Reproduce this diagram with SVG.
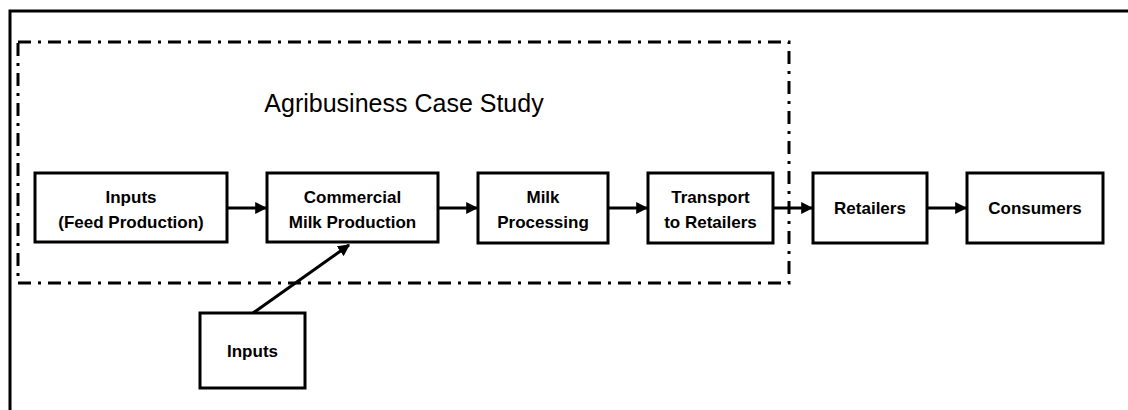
<svg xmlns="http://www.w3.org/2000/svg" width="1128" height="410" viewBox="0 0 1128 410">
  <defs>
    <marker id="arrow" viewBox="0 0 10 10" refX="9" refY="5" markerWidth="4" markerHeight="4" orient="auto" markerUnits="strokeWidth">
      <path d="M0,0 L10,5 L0,10 z" fill="#000"/>
    </marker>
    <style>
      .box { fill: #fff; stroke: #000; stroke-width: 3; }
      .lbl { font-family: "Liberation Sans", Arial, sans-serif; font-weight: bold; font-size: 17px; text-anchor: middle; fill: #000; }
      .edge { stroke: #000; stroke-width: 3; fill: none; marker-end: url(#arrow); }
      .scope { stroke: #000; stroke-width: 3; fill: none; stroke-dasharray: 13 7 3 7; }
    </style>
  </defs>

  <rect x="0" y="0" width="1128" height="410" fill="#fff"/>
  <!-- outer frame (open to the right and bottom) -->
  <path d="M10,410 L10,11 L1128,11" fill="none" stroke="#000" stroke-width="3"/>

  <!-- case study boundary -->
  <g id="scope">
    <rect class="scope" x="18" y="42" width="771" height="241"/>
    <text x="404" y="112" font-family="Liberation Sans, Arial, sans-serif" font-size="25" text-anchor="middle">Agribusiness Case Study</text>
  </g>

  <g id="connectors">
    <line class="edge" x1="228" y1="208" x2="266" y2="208"/>
    <line class="edge" x1="439" y1="208" x2="477" y2="208"/>
    <line class="edge" x1="609" y1="208" x2="647" y2="208"/>
    <line class="edge" x1="774" y1="208" x2="812" y2="208"/>
    <line class="edge" x1="928" y1="208" x2="966" y2="208"/>
    <line class="edge" x1="253" y1="313" x2="349" y2="245"/>
  </g>

  <g id="feed">
    <rect class="box" x="35" y="173" width="192" height="69"/>
    <text class="lbl" x="131" y="203">Inputs</text>
    <text class="lbl" x="131" y="228">(Feed Production)</text>
  </g>
  <g id="milk-production">
    <rect class="box" x="267" y="173" width="171" height="69"/>
    <text class="lbl" x="352.5" y="203">Commercial</text>
    <text class="lbl" x="352.5" y="228">Milk Production</text>
  </g>
  <g id="processing">
    <rect class="box" x="478" y="173" width="130" height="70"/>
    <text class="lbl" x="543" y="203">Milk</text>
    <text class="lbl" x="543" y="228">Processing</text>
  </g>
  <g id="transport">
    <rect class="box" x="648" y="173" width="125" height="70"/>
    <text class="lbl" x="710.5" y="203">Transport</text>
    <text class="lbl" x="710.5" y="228">to Retailers</text>
  </g>
  <g id="retailers">
    <rect class="box" x="813" y="173" width="114" height="70"/>
    <text class="lbl" x="870" y="214">Retailers</text>
  </g>
  <g id="consumers">
    <rect class="box" x="967" y="173" width="136" height="70"/>
    <text class="lbl" x="1035" y="214">Consumers</text>
  </g>
  <g id="inputs">
    <rect class="box" x="200" y="313" width="105" height="75"/>
    <text class="lbl" x="252.5" y="357">Inputs</text>
  </g>
</svg>
